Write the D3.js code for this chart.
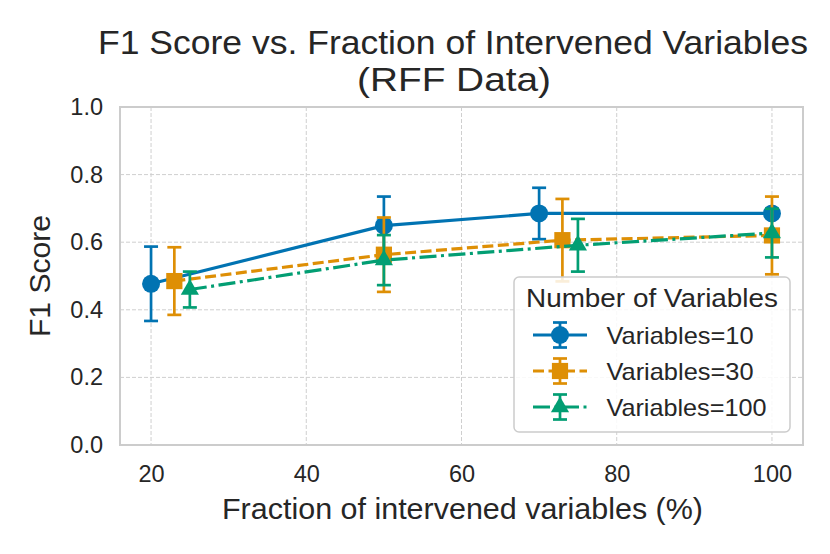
<!DOCTYPE html>
<html>
<head>
<meta charset="utf-8">
<script src="https://d3js.org/d3.v7.min.js"></script>
<style>
  body { margin: 0; background: #fff; }
  text { font-family: "Liberation Sans", Arial, sans-serif; fill: #262626; }
</style>
</head>
<body>
<div id="graph"></div>
<script>
// data
var seriesNames = ["Variables=10", "Variables=30", "Variables=100"];
var x10 = [20, 50, 70, 100];
var y10 = [0.477, 0.649, 0.685, 0.685];
var e10 = [0.110, 0.086, 0.076, 0.000];
var x30 = [23, 50, 73, 100];
var y30 = [0.485, 0.563, 0.606, 0.620];
var e30 = [0.100, 0.110, 0.122, 0.115];
var x100 = [25, 50, 75, 100];
var y100 = [0.460, 0.547, 0.591, 0.627];
var e100 = [0.053, 0.074, 0.078, 0.072];
var xTicks = [20, 40, 60, 80, 100];
var yTicks = [0.0, 0.2, 0.4, 0.6, 0.8, 1.0];

var colors = ["#0173b2", "#de8f05", "#029e73"];
var dashes = [null, "11,4.5", "17,4.5,3,4.5"];
var shapes = ["circle", "square", "triangle"];

var W = 830, H = 554;
var margin = {top: 107, right: 27, bottom: 109, left: 120},
    width = W - margin.left - margin.right,
    height = H - margin.top - margin.bottom;

var svg = d3.select("#graph").append("svg")
    .attr("width", W).attr("height", H);

// stretch a text to the width it has in the reference
function fit(t, w) {
  return t.attr("textLength", w).attr("lengthAdjust", "spacingAndGlyphs");
}

var g = svg.append("g")
    .attr("transform", "translate(" + margin.left + "," + margin.top + ")");

var x = d3.scaleLinear().domain([16, 104]).range([0, width]);
var y = d3.scaleLinear().domain([0, 1]).range([height, 0]);

// grid
g.append("g").selectAll("line").data(xTicks).enter().append("line")
    .attr("x1", d => x(d)).attr("x2", d => x(d))
    .attr("y1", 0).attr("y2", height)
    .attr("stroke", "#cfcfcf").attr("stroke-width", 1)
    .attr("stroke-dasharray", "4,2");
g.append("g").selectAll("line").data(yTicks.slice(1, -1)).enter().append("line")
    .attr("x1", 0).attr("x2", width)
    .attr("y1", d => y(d)).attr("y2", d => y(d))
    .attr("stroke", "#cfcfcf").attr("stroke-width", 1)
    .attr("stroke-dasharray", "4,2");

// axes
var xAxis = g.append("g")
    .attr("transform", "translate(0," + height + ")")
    .call(d3.axisBottom(x).tickValues(xTicks).tickSize(0).tickPadding(20));
var yAxis = g.append("g")
    .call(d3.axisLeft(y).tickValues(yTicks).tickSize(0).tickPadding(17)
      .tickFormat(d3.format(".1f")));
[xAxis, yAxis].forEach(function(a) {
  a.select(".domain").remove();
  a.selectAll("text").attr("font-size", "23.5px")
    .attr("font-family", "'Liberation Sans', Arial, sans-serif").attr("fill", "#262626");
});

// spines
g.append("rect").attr("x", 0).attr("y", 0)
    .attr("width", width).attr("height", height)
    .attr("fill", "none").attr("stroke", "#cccccc").attr("stroke-width", 2);

function marker(sel, shape, cx, cy, s, color) {
  if (shape === "circle") {
    sel.append("circle").attr("cx", cx).attr("cy", cy).attr("r", s / 2).attr("fill", color);
  } else if (shape === "square") {
    sel.append("rect").attr("x", cx - s * 0.45).attr("y", cy - s * 0.45)
      .attr("width", s * 0.9).attr("height", s * 0.9).attr("fill", color);
  } else {
    var r = s * 0.58;
    sel.append("path")
      .attr("d", "M" + cx + "," + (cy - r) + "L" + (cx + r * 0.87) + "," + (cy + r * 0.5) +
                 "L" + (cx - r * 0.87) + "," + (cy + r * 0.5) + "Z")
      .attr("fill", color);
  }
}

function errbar(sel, cx, y0, y1, color) {
  sel.append("line").attr("x1", cx).attr("x2", cx).attr("y1", y0).attr("y2", y1)
    .attr("stroke", color).attr("stroke-width", 2.7);
  [y0, y1].forEach(function(v) {
    sel.append("line").attr("x1", cx - 7).attr("x2", cx + 7).attr("y1", v).attr("y2", v)
      .attr("stroke", color).attr("stroke-width", 2.7);
  });
}

var all = [[x10, y10, e10], [x30, y30, e30], [x100, y100, e100]];
var line = d3.line().x(d => x(d[0])).y(d => y(d[1]));

all.forEach(function(s, i) {
  var pts = s[0].map((v, j) => [v, s[1][j], s[2][j]]);
  var sg = g.append("g");
  sg.append("path").datum(pts).attr("d", line)
    .attr("fill", "none").attr("stroke", colors[i]).attr("stroke-width", 3.2)
    .attr("stroke-dasharray", dashes[i]);
  pts.forEach(function(p) {
    if (p[2] > 0) errbar(sg, x(p[0]), y(p[1] - p[2]), y(p[1] + p[2]), colors[i]);
    marker(sg, shapes[i], x(p[0]), y(p[1]), 18, colors[i]);
  });
});

// legend
var lg = svg.append("g").attr("transform", "translate(514,277)");
lg.append("rect").attr("width", 276).attr("height", 155).attr("rx", 5)
  .attr("fill", "#fff").attr("fill-opacity", 0.85)
  .attr("stroke", "#cccccc").attr("stroke-width", 1.5);
fit(lg.append("text").attr("x", 12).attr("y", 29.5)
  .attr("font-size", "25px").text("Number of Variables"), 252);
var entryW = [147, 147, 160];
seriesNames.forEach(function(name, i) {
  var cy = 58 + i * 36;
  var eg = lg.append("g");
  eg.append("line").attr("x1", 19).attr("x2", 73).attr("y1", cy).attr("y2", cy)
    .attr("stroke", colors[i]).attr("stroke-width", 3.2).attr("stroke-dasharray", dashes[i]);
  errbar(eg, 46, cy - 12.5, cy + 12.5, colors[i]);
  marker(eg, shapes[i], 46, cy, 18, colors[i]);
  fit(lg.append("text").attr("x", 92.5).attr("y", cy + 9).attr("font-size", "24px")
    .text(name), entryW[i]);
});

// labels
fit(svg.append("text").attr("x", 98).attr("y", 53.5)
  .attr("font-size", "32.5px").text("F1 Score vs. Fraction of Intervened Variables"), 710);
fit(svg.append("text").attr("x", 357).attr("y", 91)
  .attr("font-size", "32.5px").text("(RFF Data)"), 194);
fit(svg.append("text").attr("x", 222).attr("y", 518.5)
  .attr("font-size", "29px").text("Fraction of intervened variables (%)"), 481);
fit(svg.append("text").attr("transform", "translate(50,337) rotate(-90)")
  .attr("font-size", "29px").text("F1 Score"), 122);
</script>
</body>
</html>
